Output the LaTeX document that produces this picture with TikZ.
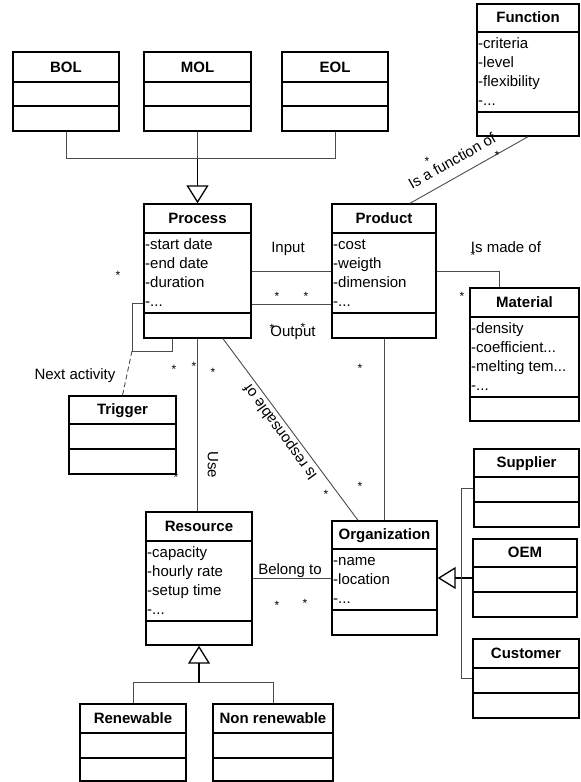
\documentclass[tikz,border=0pt]{standalone}
\usepackage{fontspec}
\setmainfont{Liberation Sans}
\usetikzlibrary{fit,arrows.meta,calc}
\tikzset{
  classbox/.style={draw=black, line width=1.4pt, inner sep=0pt},
  sepline/.style={draw=black, line width=1.4pt},
  ctitle/.style={font=\fontsize{15}{18}\selectfont\bfseries, inner sep=0pt, anchor=base},
  cattr/.style={font=\fontsize{15}{18}\selectfont, inner sep=0pt, anchor=base west},
  conn/.style={draw=black!70, line width=0.9pt},
  gen/.style={draw=black, line width=1.3pt, -{Triangle[open, length=18pt, width=22pt, line width=1.3pt]}},
  lbl/.style={font=\fontsize{15}{18}\selectfont, inner sep=0pt, anchor=base},
  rlbl/.style={font=\fontsize{15}{18}\selectfont, inner sep=0pt},
  mult/.style={font=\fontsize{12}{14}\selectfont, inner sep=0pt, yshift=-2.6pt},
}
\newcommand{\tdots}{...}
\newcommand{\umlclass}[9]{%
  \node[classbox, fit={(#2,#4) (#3,#7)}] (#1) {};
  \draw[sepline] (#2,#5) -- (#3,#5) (#2,#6) -- (#3,#6);
  \node[ctitle] (#1-title) at ({(#2+#3)/2},{#5-10}) {#8};
  \foreach \umlt [count=\umli] in {#9} {%
    \node[cattr] (#1-attr\umli) at ({#2+1},{#5+16+19*(\umli-1)}) {\umlt};}%
}
\newcommand{\umlplain}[8]{%
  \node[classbox, fit={(#2,#4) (#3,#7)}] (#1) {};
  \draw[sepline] (#2,#5) -- (#3,#5) (#2,#6) -- (#3,#6);
  \node[ctitle] (#1-title) at ({(#2+#3)/2},{#5-10}) {#8};
}
\begin{document}
\begin{tikzpicture}[x=1pt,y=-1pt]
\useasboundingbox (0,0) rectangle (581,782);
\fill[white] (0,0) rectangle (581,782);
% classes
\umlclass{function}{477}{579}{4}{32}{112}{136}{Function}{-criteria,-level,-flexibility,-\tdots}
\umlplain{bol}{13}{119}{52}{82}{106}{131}{BOL}
\umlplain{mol}{144}{251}{52}{82}{106}{131}{MOL}
\umlplain{eol}{282}{388}{52}{82}{106}{131}{EOL}
\umlclass{process}{144}{251}{204}{233}{313}{338}{Process}{-start date,-end date,-duration,-\tdots}
\umlclass{product}{332}{436}{204}{233}{313}{338}{Product}{-cost,-weigth,-dimension,-\tdots}
\umlclass{material}{470}{579}{288}{317}{397}{421}{Material}{-density,-coefficient\tdots,-melting tem\tdots,-\tdots}
\umlplain{trigger}{69}{176}{396}{424}{449}{474}{Trigger}
\umlclass{resource}{146}{252}{512}{541}{621}{645}{Resource}{-capacity,-hourly rate,-setup time,-\tdots}
\umlclass{organization}{332}{437}{521}{549}{610}{635}{Organization}{-name,-location,-\tdots}
\umlplain{supplier}{474}{579}{449}{477}{502}{527}{Supplier}
\umlplain{oem}{473}{577}{539}{567}{592}{617}{OEM}
\umlplain{customer}{473}{579}{639}{668}{693}{718}{Customer}
\umlplain{renewable}{80}{186}{704}{733}{758}{781}{Renewable}
\umlplain{nonrenewable}{213}{333}{704}{733}{758}{781}{Non renewable}
% generalization BOL/MOL/EOL
\draw[conn] (bol.south) |- ($(eol.south)+(0,27)$) -- (eol.south);
\draw[conn] (mol.south) -- ($(mol.south)+(0,27)$);
\draw[gen] ($(mol.south)+(0,27)$) -- (process.north);
% associations
\draw[conn] (process.east) -- (product.west);
\draw[conn] ([yshift=-33pt]process.east) -- ([yshift=-33pt]product.west);
\coordinate (loopc) at (132,351);
\draw[conn] ([yshift=-32pt]process.west) -| (loopc) -| ([xshift=-25.5pt]process.south);
\draw[conn, dash pattern=on 5pt off 3pt] (loopc) -- (trigger.north);
\draw[conn] (process.south) -- (process.south |- resource.north);
\draw[conn] ([xshift=25.5pt]process.south) -- ([xshift=-26.5pt]organization.north);
\draw[conn] (product.south) -- (product.south |- organization.north);
\draw[conn] (product.east) -| ([xshift=-25.5pt]material.north);
\draw[conn] (function.south) -- ([xshift=26pt]product.north);
\draw[conn] (resource.east) -- (resource.east -| organization.west);
% generalization organization
\draw[gen] (oem.west) -- (oem.west -| organization.east);
\draw[conn] (supplier.west) -- ++(-12,0) |- (customer.west);
% generalization resource
\draw[conn] (renewable.north) -- ++(0,-21) -| (nonrenewable.north);
\coordinate (rj) at (199,683);
\draw[gen] (rj) -- (resource.south);
% labels
\node[lbl] (lin) at (288,252) {Input};
\node[lbl] (lout) at (293,336) {Output};
\node[lbl] (lmade) at (506,252) {Is made of};
\node[lbl] (lnext) at (75,379) {Next activity};
\node[lbl] (lbel) at (290,574) {Belong to};
\node[rlbl, rotate=-90] (luse) at (213,465) {Use};
\node[rlbl, rotate=126] (lresp) at (281,432) {Is responsable of};
\node[rlbl, rotate=29.5] (lfunc) at (452,161) {Is a function of};
% multiplicities
\foreach \mx/\my [count=\mi] in {118/273,277/294,306/294,174/367,194/364,213/370,176/475,360/366,360/484,326/492,473/253,462/294,277/603,305/601,497/153,427/159,272/326,303/325}
  \node[mult] (m\mi) at (\mx,\my) {*};
\end{tikzpicture}
\end{document}
